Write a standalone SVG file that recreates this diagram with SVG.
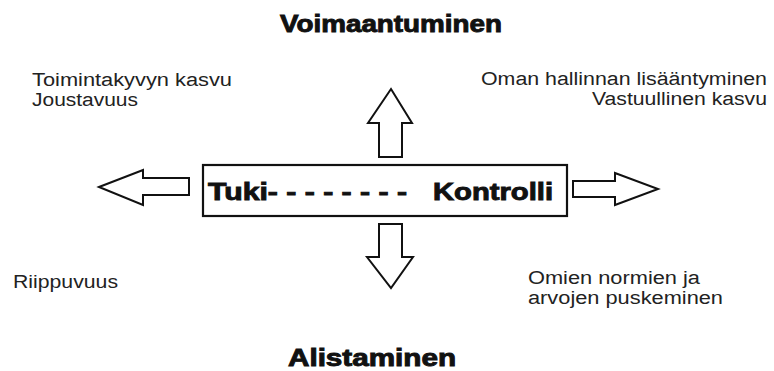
<svg xmlns="http://www.w3.org/2000/svg" width="774" height="371" viewBox="0 0 774 371">
<style>
.t{font-family:"Liberation Sans",Arial,sans-serif;font-size:18px;fill:#222}
.b{font-family:"Liberation Sans",Arial,sans-serif;font-weight:bold;font-size:23px;fill:#111;stroke:#111;stroke-width:0.9}
.arr{fill:#fff;stroke:#111;stroke-width:2;stroke-linejoin:miter}
</style>
<rect width="774" height="371" fill="#fff"/>
<g id="title-top"><text class="b" x="280" y="32" textLength="222" lengthAdjust="spacingAndGlyphs">Voimaantuminen</text></g>
<g id="title-bottom"><text class="b" x="288" y="366" textLength="168" lengthAdjust="spacingAndGlyphs">Alistaminen</text></g>
<g id="center">
<rect x="203" y="165" width="364" height="51" fill="#fff" stroke="#111" stroke-width="2.2"/>
<text class="b" x="208" y="200" textLength="199" lengthAdjust="spacingAndGlyphs">Tuki- - - - - - - -</text>
<text class="b" x="433" y="200" textLength="120" lengthAdjust="spacingAndGlyphs">Kontrolli</text>
</g>
<g id="top-left">
<text class="t" x="32" y="86" textLength="200" lengthAdjust="spacingAndGlyphs">Toimintakyvyn kasvu</text>
<text class="t" x="32" y="106" textLength="106" lengthAdjust="spacingAndGlyphs">Joustavuus</text>
</g>
<g id="top-right">
<text class="t" x="481" y="85" textLength="286" lengthAdjust="spacingAndGlyphs">Oman hallinnan lisääntyminen</text>
<text class="t" x="592" y="105" textLength="175" lengthAdjust="spacingAndGlyphs">Vastuullinen kasvu</text>
</g>
<g id="bottom-left">
<text class="t" x="13" y="288" textLength="105" lengthAdjust="spacingAndGlyphs">Riippuvuus</text>
</g>
<g id="bottom-right">
<text class="t" x="528" y="284" textLength="172" lengthAdjust="spacingAndGlyphs">Omien normien ja</text>
<text class="t" x="528" y="304" textLength="195" lengthAdjust="spacingAndGlyphs">arvojen puskeminen</text>
</g>
<g id="connectors">
<polygon class="arr" points="391,89 412,123 402,123 402,157 379,157 379,123 368,123"/>
<polygon class="arr" points="379,224 402,224 402,257 413,257 391,288 367,257 379,257"/>
<polygon class="arr" points="99,187 143,170 143,178 189,178 189,195 143,195 143,205"/>
<polygon class="arr" points="573,181 615,181 615,173 658,189 615,205 615,197 573,197"/>
</g>
</svg>
